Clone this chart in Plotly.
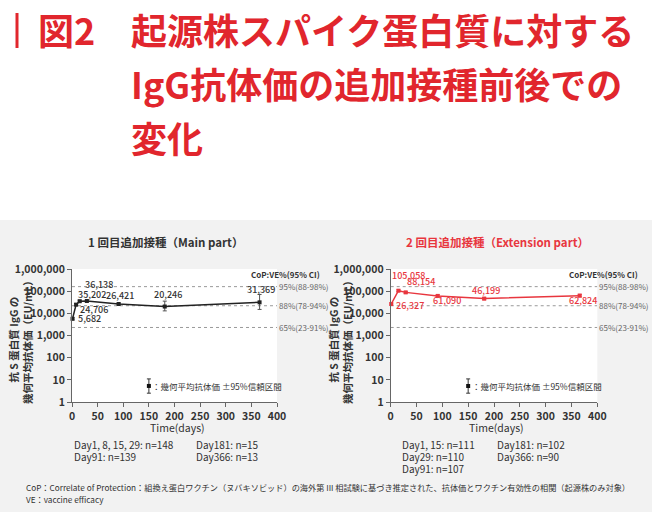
import numpy as np
import plotly.graph_objects as go

W, H = 652, 512
RED = "#e1262d"
RED_LINE = "#e8363e"
DARK = "#333333"
FONT = "Noto Sans CJK JP"

# ---- data -------------------------------------------------------------
main_days = [1, 8, 15, 29, 91, 181, 366]
main_gmt = [5682, 24706, 35202, 36138, 26421, 20246, 31369]
main_ci_low = [5100, 22000, 32000, 33000, 24000, 12900, 15000]
main_ci_high = [6300, 27700, 38800, 39500, 29000, 35500, 71000]

ext_days = [1, 15, 29, 91, 181, 366]
ext_gmt = [26327, 105058, 88154, 61090, 46199, 62824]
ext_ci_low = [23800, 96000, 80000, 55000, 41000, 55000]
ext_ci_high = [29100, 115000, 97000, 68000, 52000, 72000]

cop_values = [160000, 22000, 2300]
cop_labels = ["95%(88-98%)", "88%(78-94%)", "65%(23-91%)"]

y_tickvals = [1, 10, 100, 1000, 10000, 100000, 1000000]
y_ticktext = ["1", "10", "100", "1,000", "10,000", "100,000", "1,000,000"]

main_n_text = ["Day1, 8, 15, 29: n=148", "Day91: n=139", "Day181: n=15", "Day366: n=13"]
ext_n_text = ["Day1, 15: n=111", "Day29: n=110", "Day91: n=107", "Day181: n=102", "Day366: n=90"]

# label offsets (px) for the value labels
main_offsets = [("left", 3, 0), ("left", 2, -5), ("left", -4, 7), ("left", -4, 16),
                ("center", 1, 8), ("center", 3, 12), ("center", 1, 13)]
ext_offsets = [("left", 3, -1), ("center", 10, 15), ("center", 15, 11),
               ("center", 9, -5), ("center", 2, 8), ("center", 3, -5)]


def px(x):
    return x / W


def py(y):
    return 1 - y / H


fig = go.Figure()

panels = [
    ("x", "y", main_days, main_gmt, main_ci_low, main_ci_high, "#222222", DARK, main_offsets),
    ("x2", "y2", ext_days, ext_gmt, ext_ci_low, ext_ci_high, RED_LINE, RED_LINE, ext_offsets),
]

annotations = []
for xa, ya, days, gmt, lo, hi, lc, tc, offs in panels:
    # CoP reference lines
    for v in cop_values:
        fig.add_trace(go.Scatter(
            x=[0, 400], y=[v, v], xaxis=xa, yaxis=ya, mode="lines",
            line=dict(color="#9a9a9a", width=1, dash="dot"),
            hoverinfo="skip", showlegend=False, cliponaxis=False,
        ))
    g = np.array(gmt, dtype=float)
    fig.add_trace(go.Scatter(
        x=days, y=gmt, xaxis=xa, yaxis=ya, mode="lines+markers",
        line=dict(color=lc, width=1.5),
        marker=dict(symbol="square", size=4, color=lc),
        error_y=dict(type="data", symmetric=False,
                     array=list(np.array(hi) - g), arrayminus=list(g - np.array(lo)),
                     color="#555555" if xa == "x" else lc, thickness=1, width=2),
        showlegend=False, cliponaxis=False,
    ))
    for d, v, (anc, dx, dy) in zip(days, gmt, offs):
        annotations.append(dict(
            x=d, y=np.log10(v), xref=xa, yref=ya, text=f"{v:,}",
            showarrow=False, xanchor=anc, yanchor="middle", xshift=dx, yshift=dy,
            font=dict(family=FONT, size=9, color=tc, weight=500),
        ))
    # legend glyph
    fig.add_trace(go.Scatter(
        x=[150], y=[5.3], xaxis=xa, yaxis=ya, mode="markers",
        marker=dict(symbol="square", size=4, color="#111111"),
        error_y=dict(type="data", symmetric=False, array=[5.7], arrayminus=[2.8],
                     color="#333333", thickness=1, width=2),
        showlegend=False, hoverinfo="skip",
    ))
    annotations.append(dict(
        x=153, y=np.log10(5.3), xref=xa, yref=ya, text="：幾何平均抗体価 ±95%信頼区間",
        showarrow=False, xanchor="left", yanchor="middle",
        font=dict(family=FONT, size=8.5, color=DARK),
    ))
    for v, lab in zip(cop_values, cop_labels):
        annotations.append(dict(
            x=400, y=np.log10(v), xref=xa, yref=ya, text=lab, showarrow=False,
            xanchor="left", yanchor="middle", xshift=0,
            font=dict(family=FONT, size=8, color="#666666"),
        ))

axis_common = dict(showline=True, linecolor="#666666", linewidth=1, ticks="outside",
                   ticklen=4, tickcolor="#666666", showgrid=False, zeroline=False,
                   tickfont=dict(family=FONT, size=10.5, color=DARK, weight="bold"))
xcommon = dict(range=[0, 400], dtick=50, **axis_common)
ycommon = dict(type="log", range=[0, 6], tickvals=y_tickvals, ticktext=y_ticktext, **axis_common)

fig.update_layout(
    width=W, height=H, autosize=False,
    margin=dict(l=0, r=0, t=0, b=0, autoexpand=False),
    paper_bgcolor="#f2f2f2", plot_bgcolor="white",
    xaxis=dict(domain=[px(72), px(277)], anchor="y", **xcommon),
    yaxis=dict(domain=[py(402), py(269)], anchor="x", **ycommon),
    xaxis2=dict(domain=[px(390.7), px(597.3)], anchor="y2", **xcommon),
    yaxis2=dict(domain=[py(402), py(269)], anchor="x2", **ycommon),
)

# white top area
fig.add_shape(type="rect", xref="paper", yref="paper", x0=0, x1=1, y0=py(220), y1=1,
              fillcolor="white", line_width=0, layer="below")
# red bar at the title
fig.add_shape(type="rect", xref="paper", yref="paper", x0=px(15.5), x1=px(18.5),
              y0=py(48), y1=py(13), fillcolor=RED, line_width=0)


def paper_text(text, x, y, size, color=DARK, anchor="left", weight="normal", angle=0, family=FONT):
    annotations.append(dict(
        x=px(x), y=py(y), xref="paper", yref="paper", text=text, showarrow=False,
        xanchor=anchor, yanchor="middle", textangle=angle, align="center",
        font=dict(family=family, size=size, color=color, weight=weight),
    ))


# main title
paper_text("図2", 36, 29, 36, RED, weight="bold")
paper_text("起源株スパイク蛋白質に対する", 129, 29, 36, RED, weight="bold")
paper_text("IgG抗体価の追加接種前後での", 129, 83, 36, RED, weight="bold")
paper_text("変化", 129, 137, 36, RED, weight="bold")

# panel titles
paper_text("1 回目追加接種（Main part）", 165, 242, 11.5, DARK, anchor="center", weight="bold")
paper_text("2 回目追加接種（Extension part）", 497, 242, 11.5, RED_LINE, anchor="center", weight="bold")

# y-axis titles
ytitle = "抗 S 蛋白質 IgG の<br>幾何平均抗体価（EU/mL）"
paper_text(ytitle, 20, 340, 10.5, DARK, anchor="center", weight="bold", angle=-90)
paper_text(ytitle, 340, 340, 10.5, DARK, anchor="center", weight="bold", angle=-90)

# CoP header
paper_text("CoP:VE%(95% CI)", 322, 274, 8, DARK, anchor="right", weight="bold")
paper_text("CoP:VE%(95% CI)", 640, 274, 8, DARK, anchor="right", weight="bold")

# x-axis titles
paper_text("Time(days)", 177, 427, 10.5, DARK, anchor="center")
paper_text("Time(days)", 496, 427, 10.5, DARK, anchor="center")

# n counts
paper_text(main_n_text[0], 72, 444, 10, DARK)
paper_text(main_n_text[1], 72, 456, 10, DARK)
paper_text(main_n_text[2], 194, 444, 10, DARK)
paper_text(main_n_text[3], 194, 456, 10, DARK)
paper_text(ext_n_text[0], 400, 444, 10, DARK)
paper_text(ext_n_text[1], 400, 456, 10, DARK)
paper_text(ext_n_text[2], 400, 468, 10, DARK)
paper_text(ext_n_text[3], 495, 444, 10, DARK)
paper_text(ext_n_text[4], 495, 456, 10, DARK)

# footnote
paper_text("CoP：Correlate of Protection：組換え蛋白ワクチン（ヌバキソビッド）の海外第 III 相試験に基づき推定された、抗体価とワクチン有効性の相関（起源株のみ対象）",
           24, 487, 8.2, DARK)
paper_text("VE：vaccine efficacy", 24, 499, 8.2, DARK)

fig.update_layout(annotations=annotations)
fig.write_html("out.html", config={"displayModeBar": False},
               post_script="document.body.style.margin='0';document.body.style.overflow='hidden';")
